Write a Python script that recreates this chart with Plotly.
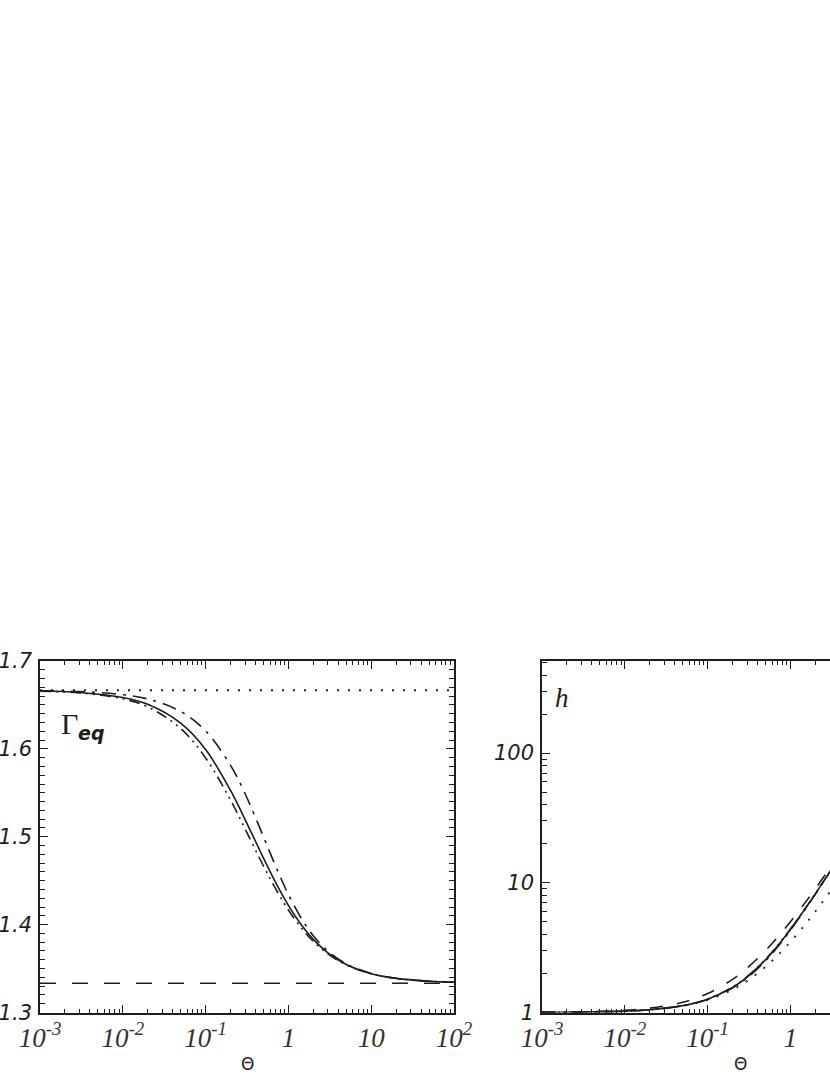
import plotly.graph_objects as go

INK = "#1e1e1e"

# temperature Theta = p / rho
THETA = [1e-3, 3e-3, 1e-2, 2e-2, 5e-2, 0.1, 0.2, 0.3, 0.5, 0.7, 1, 1.5, 2, 3, 5, 10, 20, 50, 100]
THETA_ENDS = [1e-3, 1e2]

# left panel: equivalent adiabatic index
GAMMA_SYNGE = [1.6658, 1.6642, 1.6585, 1.6507, 1.6293, 1.5993, 1.5527, 1.5195, 1.4757, 1.4480,
               1.4219, 1.3972, 1.3832, 1.3679, 1.3546, 1.3442, 1.3388, 1.3356, 1.3344]
GAMMA_TM = [1.6662, 1.6652, 1.6617, 1.6568, 1.6426, 1.6204, 1.5813, 1.5489, 1.5000, 1.4667,
            1.4343, 1.4041, 1.3874, 1.3699, 1.3555, 1.3444, 1.3389, 1.3356, 1.3344]
GAMMA_RC = [1.6657, 1.6637, 1.6570, 1.6478, 1.6232, 1.5897, 1.5417, 1.5088, 1.4667, 1.4409,
            1.4167, 1.3939, 1.3810, 1.3667, 1.3542, 1.3441, 1.3388, 1.3355, 1.3344]
GAMMA_53 = [1.6667, 1.6667]
GAMMA_43 = [1.3333, 1.3333]

# right panel: specific enthalpy
H_SYNGE = [1.0025, 1.0075, 1.0252, 1.0508, 1.1295, 1.2669, 1.5619, 1.8775, 2.5512, 3.2625,
           4.3704, 6.2765, 8.2194, 12.155, 20.10, 40.05, 80.03, 200.0, 400.0]
H_TM = [1.0025, 1.0075, 1.0251, 1.0505, 1.1278, 1.2612, 1.5440, 1.8466, 2.5, 3.2,
        4.3028, 6.2122, 8.1623, 12.110, 20.066, 40.033, 80.017, 200.0, 400.0]
H_RC = [1.0025, 1.0075, 1.0252, 1.0509, 1.1302, 1.2696, 1.5692, 1.8897, 2.5714, 3.2878,
        4.4, 6.3077, 8.25, 12.182, 20.118, 40.063, 80.03, 200.0, 400.0]
H_53 = [1.0025, 1.0075, 1.025, 1.05, 1.125, 1.25, 1.5, 1.75, 2.25, 2.75,
        3.5, 4.75, 6.0, 8.5, 13.5, 26.0, 51.0, 126.0, 251.0]
H_43 = [1.004, 1.012, 1.04, 1.08, 1.2, 1.4, 1.8, 2.2, 3.0, 3.8,
        5.0, 7.0, 9.0, 13.0, 21.0, 41.0, 81.0, 201.0, 401.0]

X_TICKS = [1e-3, 1e-2, 1e-1, 1, 10, 100]
X_TICKTEXT = ["10<sup>-3</sup>", "10<sup>-2</sup>", "10<sup>-1</sup>", "1", "10", "10<sup>2</sup>"]
X_MINOR = [m * 10 ** e for e in range(-3, 2) for m in range(2, 10)]
G_TICKS = [1.3, 1.4, 1.5, 1.6, 1.7]
H_TICKS = [1, 10, 100]
H_MINOR = [m * 10 ** e for e in range(0, 3) for m in range(2, 10)]

W, H = 830, 1075
LEFT_DOM = [40 / W, 454 / W]
RIGHT_X0 = 542
DECADE_PX = (454 - 40) / 5
Y_DOM = [(H - 1012.5) / H, (H - 661) / H]

fig = go.Figure()

def line(x, y, dash, xa, ya, width=1.6):
    fig.add_trace(go.Scatter(x=x, y=y, mode="lines", xaxis=xa, yaxis=ya, showlegend=False,
                             line={"color": INK, "width": width, "dash": dash, "shape": "spline"}))

# left panel
line(THETA_ENDS, GAMMA_53, "2px,9px", "x", "y", 1.8)
line(THETA_ENDS, GAMMA_43, "16px,16px", "x", "y")
line(THETA, GAMMA_TM, "14px,7px,3px,7px", "x", "y")
line(THETA, GAMMA_RC, "11px,5px,2px,5px,2px,5px", "x", "y")
line(THETA, GAMMA_SYNGE, "solid", "x", "y")

# right panel
line(THETA, H_53, "2px,9px", "x2", "y2", 1.8)
line(THETA, H_43, "13px,14px", "x2", "y2")
line(THETA, H_TM, "14px,7px,3px,7px", "x2", "y2")
line(THETA, H_RC, "11px,5px,2px,5px,2px,5px", "x2", "y2")
line(THETA, H_SYNGE, "solid", "x2", "y2")

axis_common = dict(showline=True, linecolor=INK, linewidth=1.6, ticks="inside", tickcolor=INK,
                   tickwidth=1.2, showgrid=False, zeroline=False, automargin=False)
x_common = dict(axis_common, type="log", tickmode="array", tickvals=X_TICKS, ticktext=X_TICKTEXT,
                ticklen=8, mirror="allticks",
                tickfont={"family": "Liberation Serif", "size": 27, "style": "italic", "color": "#333"},
                minor={"tickvals": X_MINOR, "ticks": "inside", "ticklen": 4, "tickcolor": INK, "tickwidth": 1})
ytick_font = {"family": "DejaVu Sans", "size": 21, "style": "italic", "color": INK}

right_end = -3 + (W - RIGHT_X0) / DECADE_PX

fig.update_layout(
    width=W, height=H,
    paper_bgcolor="white", plot_bgcolor="white",
    margin={"l": 0, "r": 0, "t": 0, "b": 0},
    xaxis=dict(x_common, domain=LEFT_DOM, range=[-3, 2], anchor="y"),
    yaxis=dict(axis_common, domain=Y_DOM, range=[1.3, 1.7], anchor="x", mirror="allticks",
               tickmode="array", tickvals=G_TICKS, ticktext=["1.3", "1.4", "1.5", "1.6", "1.7"],
               ticklen=8, tickfont=ytick_font, ticklabelstandoff=2,
               minor={"dtick": 0.01, "ticks": "inside", "ticklen": 5, "tickcolor": INK, "tickwidth": 1}),
    xaxis2=dict(x_common, domain=[RIGHT_X0 / W, 1], range=[-3, right_end], anchor="y2"),
    yaxis2=dict(axis_common, type="log", domain=Y_DOM, range=[0, 2.71], anchor="x2", mirror=False,
                tickmode="array", tickvals=H_TICKS, ticktext=["1", "10", "100"],
                ticklen=8, tickfont=ytick_font, ticklabelstandoff=2,
                minor={"tickvals": H_MINOR, "ticks": "inside", "ticklen": 5, "tickcolor": INK, "tickwidth": 1}),
    annotations=[
        dict(text="\u0393", xref="x domain", yref="y domain", x=0.046, y=0.821, xanchor="left", yanchor="middle",
             showarrow=False, font={"family": "Liberation Serif", "size": 30, "color": INK}),
        dict(text="eq", xref="x domain", yref="y domain", x=0.087, y=0.794, xanchor="left", yanchor="middle",
             showarrow=False, font={"family": "DejaVu Sans", "size": 19, "style": "italic", "weight": "bold", "color": INK}),
        dict(text="h", xref="x2 domain", yref="y2 domain", x=0.038, y=0.895, xanchor="left", yanchor="middle",
             showarrow=False, font={"family": "Liberation Serif", "size": 27, "style": "italic", "color": INK}),
        dict(text="\u0398", xref="x domain", yref="y domain", x=0.5, y=-0.1465, yanchor="middle",
             showarrow=False, font={"family": "DejaVu Sans", "size": 17, "color": INK}),
        dict(text="\u0398", xref="paper", yref="y2 domain", x=(RIGHT_X0 + 207) / W, y=-0.1465, yanchor="middle",
             showarrow=False, font={"family": "DejaVu Sans", "size": 17, "color": INK}),
    ],
)

# drop the default page margin so the figure sits at the window's top-left corner
fig.write_html("out.html", config={"displayModeBar": False},
               post_script="document.body.style.margin = '0px';")
